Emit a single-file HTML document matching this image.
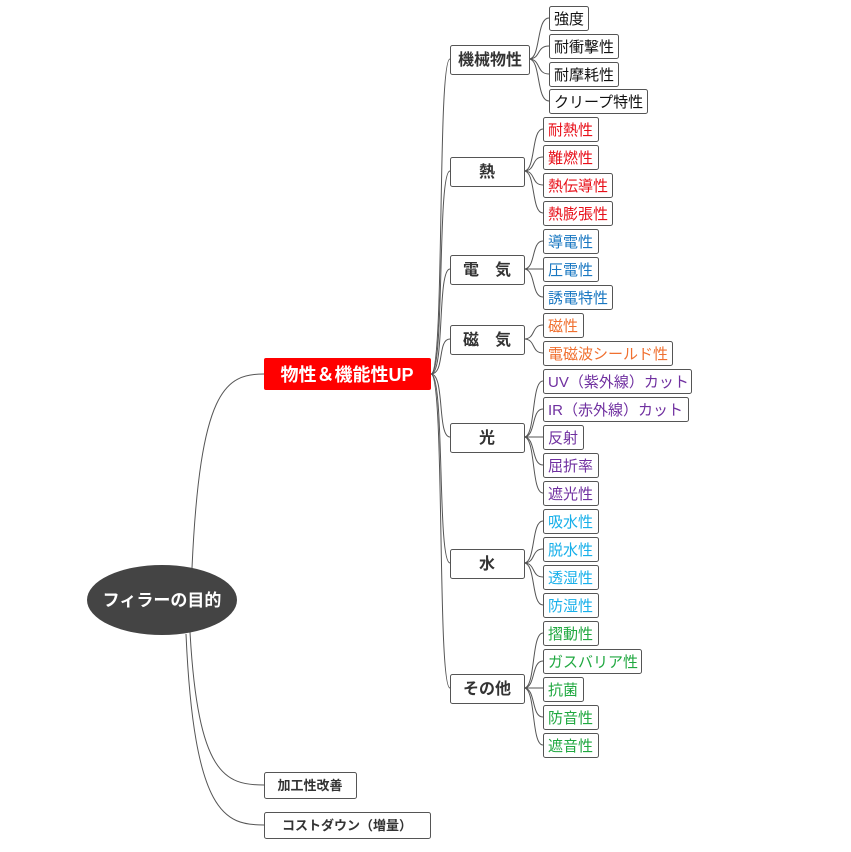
<!DOCTYPE html>
<html><head><meta charset="utf-8"><style>
html,body{margin:0;padding:0;background:#fff;}
svg{display:block;font-family:"Liberation Sans","Noto Sans CJK JP",sans-serif;}
.b{fill:#fff;stroke:#555;stroke-width:1;}
.l{fill:none;stroke:#555;stroke-width:1;}
.c{font-size:16px;font-weight:bold;fill:#333;text-anchor:middle;}
.t{font-size:15px;}
</style></head><body>
<svg width="851" height="852" viewBox="0 0 851 852">
<path class="l" d="M192,568 C200,390 225,374 264,374"/>
<path class="l" d="M190,632 C198,775 225,785 264,785"/>
<path class="l" d="M186,634 C194,815 225,825 264,825"/>
<g class="l">
<path d="M431,374 C445,374 437,59 450,59"/>
<path d="M431,374 C445,374 437,171 450,171"/>
<path d="M431,374 C445,374 437,269 450,269"/>
<path d="M431,374 C445,374 437,339 450,339"/>
<path d="M431,374 C445,374 437,437 450,437"/>
<path d="M431,374 C445,374 437,563 450,563"/>
<path d="M431,374 C445,374 437,688 450,688"/>
</g>
<g class="l">
<path d="M529,59 C541,59 536,18 549,18"/>
<path d="M529,59 C541,59 536,46 549,46"/>
<path d="M529,59 C541,59 536,74 549,74"/>
<path d="M529,59 C541,59 536,101 549,101"/>
<path d="M524,171 C536,171 531,129 543,129"/>
<path d="M524,171 C536,171 531,157 543,157"/>
<path d="M524,171 C536,171 531,185 543,185"/>
<path d="M524,171 C536,171 531,213 543,213"/>
<path d="M524,269 C536,269 531,241 543,241"/>
<path d="M524,269 L543,269"/>
<path d="M524,269 C536,269 531,297 543,297"/>
<path d="M524,339 C536,339 531,325 543,325"/>
<path d="M524,339 C536,339 531,353 543,353"/>
<path d="M524,437 C536,437 531,381 543,381"/>
<path d="M524,437 C536,437 531,409 543,409"/>
<path d="M524,437 L543,437"/>
<path d="M524,437 C536,437 531,465 543,465"/>
<path d="M524,437 C536,437 531,493 543,493"/>
<path d="M524,563 C536,563 531,521 543,521"/>
<path d="M524,563 C536,563 531,549 543,549"/>
<path d="M524,563 C536,563 531,577 543,577"/>
<path d="M524,563 C536,563 531,605 543,605"/>
<path d="M524,688 C536,688 531,633 543,633"/>
<path d="M524,688 C536,688 531,661 543,661"/>
<path d="M524,688 L543,688"/>
<path d="M524,688 C536,688 531,717 543,717"/>
<path d="M524,688 C536,688 531,745 543,745"/>
</g>
<ellipse cx="162" cy="600" rx="75" ry="35" fill="#444"/>
<text x="162" y="606" fill="#fff" font-size="17" font-weight="bold" text-anchor="middle">フィラーの目的</text>
<rect x="264" y="358" width="167" height="32" rx="2" fill="#f00"/>
<text x="347" y="381" fill="#fff" font-size="18" font-weight="bold" text-anchor="middle">物性＆機能性UP</text>
<rect class="b" x="264.5" y="772.5" width="92" height="26" rx="2"/>
<text x="310" y="790" font-size="13" font-weight="bold" fill="#333" text-anchor="middle">加工性改善</text>
<rect class="b" x="264.5" y="812.5" width="166" height="26" rx="2"/>
<text x="347" y="830" font-size="13" font-weight="bold" fill="#333" text-anchor="middle">コストダウン（増量）</text>
<rect class="b" x="450.5" y="45.5" width="79" height="29" rx="2"/><text class="c" x="490" y="65">機械物性</text>
<rect class="b" x="450.5" y="157.5" width="74" height="29" rx="2"/><text class="c" x="487" y="177">熱</text>
<rect class="b" x="450.5" y="255.5" width="74" height="29" rx="2"/><text class="c" x="487" y="275">電　気</text>
<rect class="b" x="450.5" y="325.5" width="74" height="29" rx="2"/><text class="c" x="487" y="345">磁　気</text>
<rect class="b" x="450.5" y="423.5" width="74" height="29" rx="2"/><text class="c" x="487" y="443">光</text>
<rect class="b" x="450.5" y="549.5" width="74" height="29" rx="2"/><text class="c" x="487" y="569">水</text>
<rect class="b" x="450.5" y="674.5" width="74" height="29" rx="2"/><text class="c" x="487" y="694">その他</text>
<g class="t">
<g fill="#111">
<rect class="b" x="549.5" y="6.5" width="39" height="24" rx="2"/><text x="554" y="24">強度</text>
<rect class="b" x="549.5" y="34.5" width="69" height="24" rx="2"/><text x="554" y="52">耐衝撃性</text>
<rect class="b" x="549.5" y="62.5" width="69" height="24" rx="2"/><text x="554" y="80">耐摩耗性</text>
<rect class="b" x="549.5" y="89.5" width="98" height="24" rx="2"/><text x="554" y="107">クリープ特性</text>
</g>
<g fill="#e8101a">
<rect class="b" x="543.5" y="117.5" width="55" height="24" rx="2"/><text x="548" y="135">耐熱性</text>
<rect class="b" x="543.5" y="145.5" width="55" height="24" rx="2"/><text x="548" y="163">難燃性</text>
<rect class="b" x="543.5" y="173.5" width="69" height="24" rx="2"/><text x="548" y="191">熱伝導性</text>
<rect class="b" x="543.5" y="201.5" width="69" height="24" rx="2"/><text x="548" y="219">熱膨張性</text>
</g>
<g fill="#1a78c2">
<rect class="b" x="543.5" y="229.5" width="55" height="24" rx="2"/><text x="548" y="247">導電性</text>
<rect class="b" x="543.5" y="257.5" width="55" height="24" rx="2"/><text x="548" y="275">圧電性</text>
<rect class="b" x="543.5" y="285.5" width="69" height="24" rx="2"/><text x="548" y="303">誘電特性</text>
</g>
<g fill="#f07030">
<rect class="b" x="543.5" y="313.5" width="40" height="24" rx="2"/><text x="548" y="331">磁性</text>
<rect class="b" x="543.5" y="341.5" width="129" height="24" rx="2"/><text x="548" y="359">電磁波シールド性</text>
</g>
<g fill="#7030a0">
<rect class="b" x="543.5" y="369.5" width="148" height="24" rx="2"/><text x="548" y="387">UV（紫外線）カット</text>
<rect class="b" x="543.5" y="397.5" width="145" height="24" rx="2"/><text x="548" y="415">IR（赤外線）カット</text>
<rect class="b" x="543.5" y="425.5" width="40" height="24" rx="2"/><text x="548" y="443">反射</text>
<rect class="b" x="543.5" y="453.5" width="55" height="24" rx="2"/><text x="548" y="471">屈折率</text>
<rect class="b" x="543.5" y="481.5" width="55" height="24" rx="2"/><text x="548" y="499">遮光性</text>
</g>
<g fill="#18b0ea">
<rect class="b" x="543.5" y="509.5" width="55" height="24" rx="2"/><text x="548" y="527">吸水性</text>
<rect class="b" x="543.5" y="537.5" width="55" height="24" rx="2"/><text x="548" y="555">脱水性</text>
<rect class="b" x="543.5" y="565.5" width="55" height="24" rx="2"/><text x="548" y="583">透湿性</text>
<rect class="b" x="543.5" y="593.5" width="55" height="24" rx="2"/><text x="548" y="611">防湿性</text>
</g>
<g fill="#20a840">
<rect class="b" x="543.5" y="621.5" width="55" height="24" rx="2"/><text x="548" y="639">摺動性</text>
<rect class="b" x="543.5" y="649.5" width="98" height="24" rx="2"/><text x="548" y="667">ガスバリア性</text>
<rect class="b" x="543.5" y="677.5" width="40" height="24" rx="2"/><text x="548" y="695">抗菌</text>
<rect class="b" x="543.5" y="705.5" width="55" height="24" rx="2"/><text x="548" y="723">防音性</text>
<rect class="b" x="543.5" y="733.5" width="55" height="24" rx="2"/><text x="548" y="751">遮音性</text>
</g>
</g>
</svg>
</body></html>
